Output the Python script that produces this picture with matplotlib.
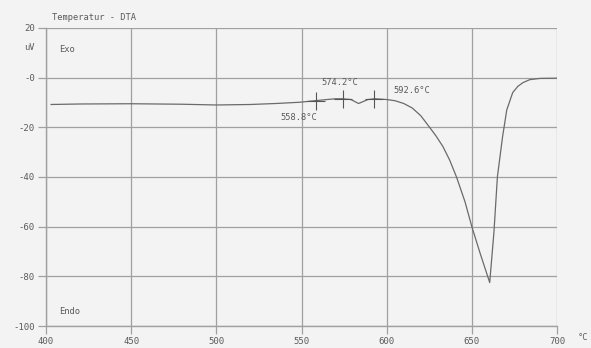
import matplotlib
matplotlib.use("Agg")
import matplotlib.pyplot as plt

# DTA curve (temperature in degC, signal in uV)
temp = [403, 420, 450, 480, 500, 520, 535, 549, 559, 565, 570, 574, 579, 583.5,
        589, 593, 600, 605, 610, 615, 620, 625, 629, 633, 637, 641, 646, 650, 655,
        660.5, 663, 665, 668, 670.5, 674, 677, 680, 684, 690, 700]
signal = [-10.8, -10.6, -10.5, -10.7, -11.0, -10.8, -10.4, -9.9, -9.2, -8.8, -8.5,
          -8.5, -8.8, -10.4, -8.8, -8.5, -8.8, -9.3, -10.4, -12.2, -15.3, -19.8,
          -23.5, -27.7, -33.2, -40, -50, -60, -71, -82.5, -62, -40, -24, -13, -6,
          -3.5, -2, -0.8, -0.3, -0.2]

# marked peaks
peak_temp = [558.8, 574.2, 592.6]
peak_signal = [-9.2, -8.5, -8.5]
peak_labels = ["558.8°C", "574.2°C", "592.6°C"]

x_ticks = [400, 450, 500, 550, 600, 650, 700]
y_ticks = [20, 0, -20, -40, -60, -80, -100]
y_ticklabels = ["20", "-0", "-20", "-40", "-60", "-80", "-100"]

bg = "#f3f3f3"
ink = "#5a5a5a"
font = "DejaVu Sans Mono"

fig = plt.figure(figsize=(5.91, 3.48), dpi=100)
fig.patch.set_facecolor(bg)
ax = fig.add_axes([46 / 591, 22 / 348, 511 / 591, 298 / 348])
ax.set_facecolor(bg)

ax.plot(temp, signal, color="#6a6a6a", lw=0.9)
ax.plot(peak_temp, peak_signal, ls="none", marker="+", ms=13, mew=0.8, color="#555555")

# peak labels
ax.text(548.3, -16.1, peak_labels[0], ha="center", va="center", fontsize=6.3, family=font, color=ink)
ax.text(572.6, -2.0, peak_labels[1], ha="center", va="center", fontsize=6.3, family=font, color=ink)
ax.text(603.8, -5.3, peak_labels[2], ha="left", va="center", fontsize=6.3, family=font, color=ink)

ax.set_xlim(400, 700)
ax.set_ylim(-100, 20)
ax.set_xticks(x_ticks)
ax.set_yticks(y_ticks)
ax.set_yticklabels(y_ticklabels)
ax.grid(True, color="#a0a0a0", lw=0.9)
ax.set_axisbelow(True)
ax.tick_params(axis="both", length=6, width=0.9, color="#a0a0a0", labelsize=6.5,
               labelcolor=ink, pad=2)
for lbl in ax.get_xticklabels() + ax.get_yticklabels():
    lbl.set_family(font)
for side in ["top", "right"]:
    ax.spines[side].set_visible(False)
for side in ["left", "bottom"]:
    ax.spines[side].set_color("#a0a0a0")
    ax.spines[side].set_linewidth(1.0)

ax.text(0.025, 0.92, "Exo", transform=ax.transAxes, fontsize=6.3, family=font, color=ink)
ax.text(0.025, 0.04, "Endo", transform=ax.transAxes, fontsize=6.3, family=font, color=ink)
fig.text(52 / 591, 1 - 17 / 348, "Temperatur - DTA", fontsize=6.3, family=font,
         color=ink, va="center", ha="left")
fig.text(29 / 591, 1 - 47 / 348, "uV", fontsize=6.3, family=font, color=ink,
         va="center", ha="center")
fig.text(583 / 591, 1 - 338 / 348, "°C", fontsize=6.3, family=font, color=ink,
         va="center", ha="center")

fig.savefig("out.png", dpi=100, facecolor=bg)
